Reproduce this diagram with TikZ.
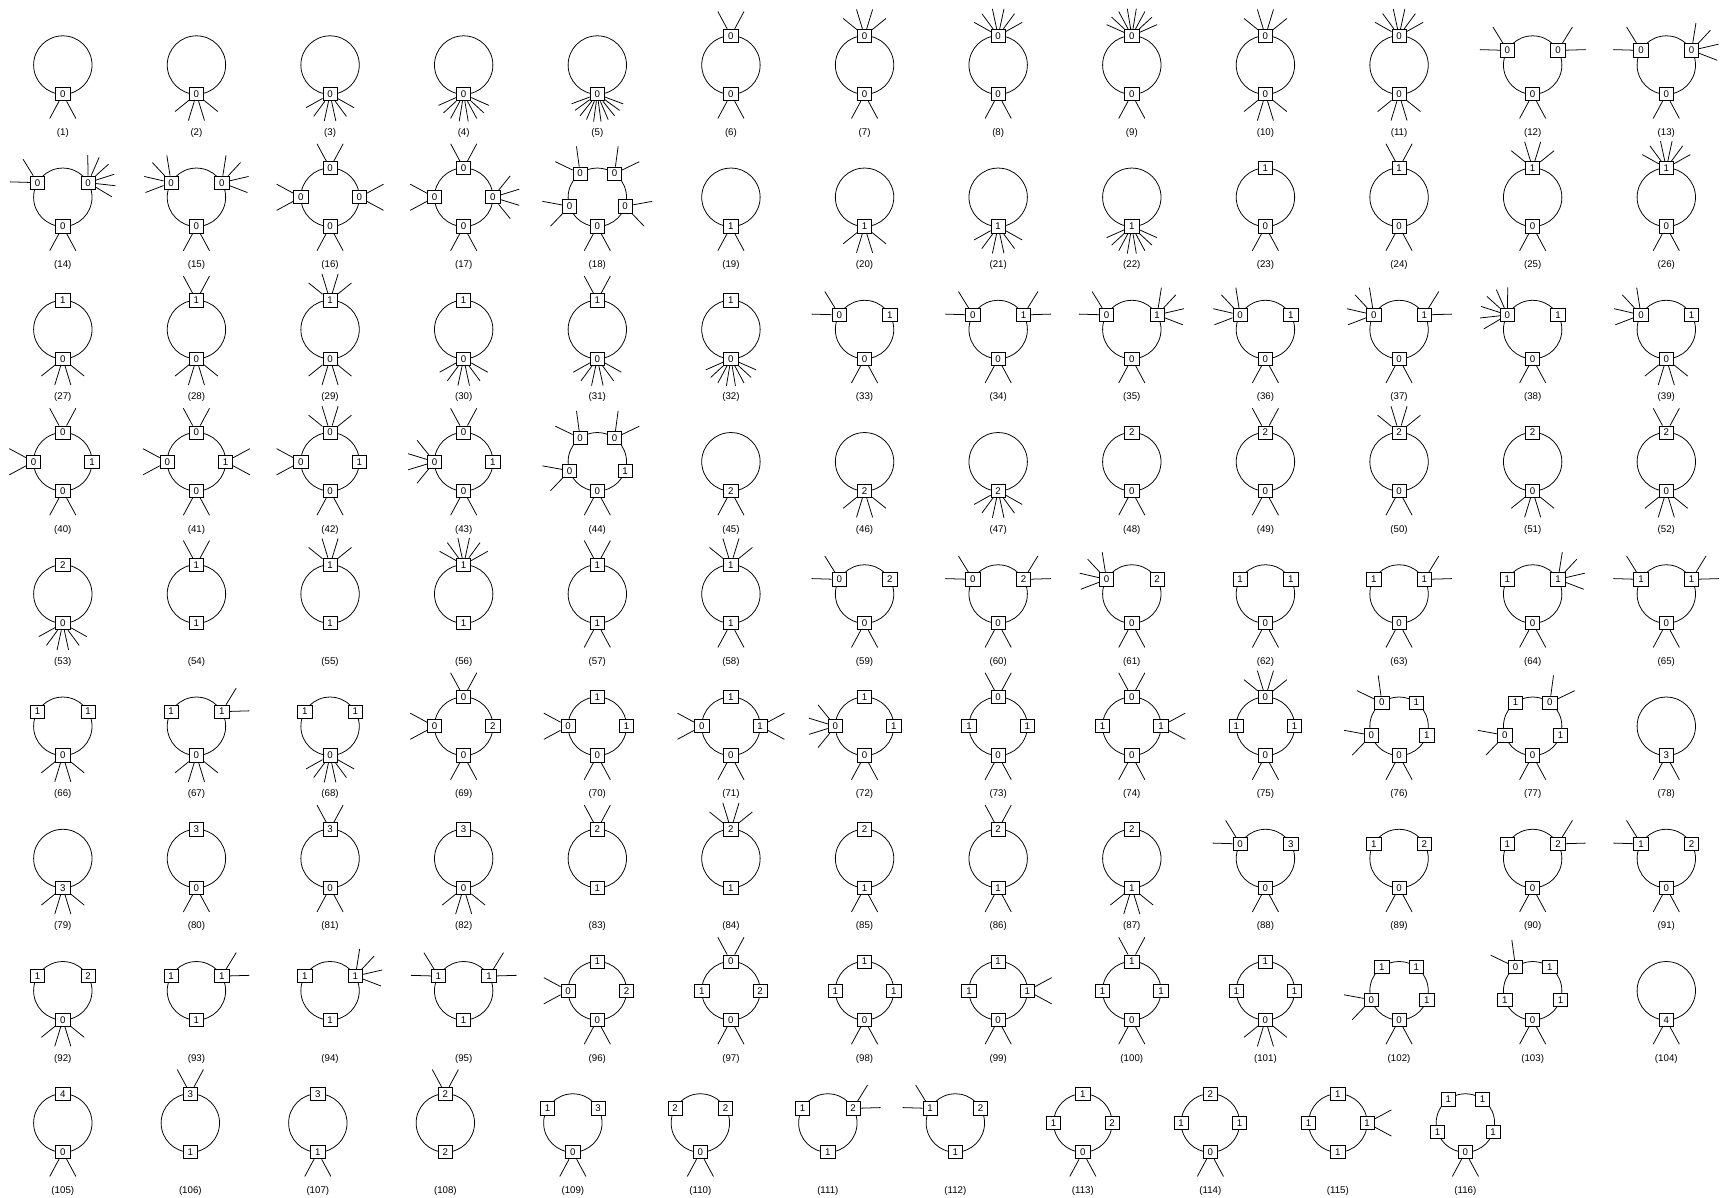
\documentclass[tikz,border=0pt]{standalone}
\usepackage{fontspec}
\setmainfont{Liberation Sans}
\tikzset{
  ln/.style={line width=0.7pt},
  vbox/.style={draw, line width=0.7pt, fill=white, minimum width=13pt, minimum height=12pt, inner sep=0pt, font=\fontsize{8.8}{10}\selectfont},
  lab/.style={font=\fontsize{8.8}{10}\selectfont, inner sep=0pt},
}
\newcommand{\dg}[4]{%
  \ifnum#3=8 \pgfmathsetmacro\cx{57+115.7*#2}\else\pgfmathsetmacro\cx{57+121.25*#2}\fi
  \pgfmathsetmacro\cy{-(59+120*#3)}%
  \begin{scope}[shift={(\cx,\cy)}]
    \draw[ln] (0,0) circle (26.5);
    \foreach \a/\l/\n [count=\j] in {#4} {
      \node[vbox] (d#1b\j) at (\a:26.5) {\l};
      \ifnum\n>0
        \foreach \i in {1,...,\n} {
          \pgfmathsetmacro\ang{\a+(\i-(\n+1)/2)*170/(\n+1)}
          \path (\a:26.5) ++(\ang:25) coordinate (d#1e\j-\i);
          \draw[ln] (d#1b\j) -- (d#1e\j-\i);
        }
      \fi
    }
    \node[lab] (d#1l) at (0,-61.5) {(#1)};
  \end{scope}}
\begin{document}
\begin{tikzpicture}[x=1pt,y=1pt]
\useasboundingbox (0,0) rectangle (1568,-1087);
% row 0
\dg{1}{0}{0}{270/0/2}
\dg{2}{1}{0}{270/0/4}
\dg{3}{2}{0}{270/0/6}
\dg{4}{3}{0}{270/0/8}
\dg{5}{4}{0}{270/0/10}
\dg{6}{5}{0}{90/0/2,270/0/2}
\dg{7}{6}{0}{90/0/4,270/0/2}
\dg{8}{7}{0}{90/0/6,270/0/2}
\dg{9}{8}{0}{90/0/8,270/0/2}
\dg{10}{9}{0}{90/0/4,270/0/4}
\dg{11}{10}{0}{90/0/6,270/0/4}
\dg{12}{11}{0}{150/0/2,30/0/2,270/0/2}
\dg{13}{12}{0}{150/0/2,30/0/4,270/0/2}
% row 1
\dg{14}{0}{1}{150/0/2,30/0/6,270/0/2}
\dg{15}{1}{1}{150/0/4,30/0/4,270/0/2}
\dg{16}{2}{1}{90/0/2,0/0/2,270/0/2,180/0/2}
\dg{17}{3}{1}{90/0/2,0/0/4,270/0/2,180/0/2}
\dg{18}{4}{1}{270/0/2,342/0/2,54/0/2,126/0/2,198/0/2}
\dg{19}{5}{1}{270/1/2}
\dg{20}{6}{1}{270/1/4}
\dg{21}{7}{1}{270/1/6}
\dg{22}{8}{1}{270/1/8}
\dg{23}{9}{1}{90/1/0,270/0/2}
\dg{24}{10}{1}{90/1/2,270/0/2}
\dg{25}{11}{1}{90/1/4,270/0/2}
\dg{26}{12}{1}{90/1/6,270/0/2}
% row 2
\dg{27}{0}{2}{90/1/0,270/0/4}
\dg{28}{1}{2}{90/1/2,270/0/4}
\dg{29}{2}{2}{90/1/4,270/0/4}
\dg{30}{3}{2}{90/1/0,270/0/6}
\dg{31}{4}{2}{90/1/2,270/0/6}
\dg{32}{5}{2}{90/1/0,270/0/8}
\dg{33}{6}{2}{150/0/2,30/1/0,270/0/2}
\dg{34}{7}{2}{150/0/2,30/1/2,270/0/2}
\dg{35}{8}{2}{150/0/2,30/1/4,270/0/2}
\dg{36}{9}{2}{150/0/4,30/1/0,270/0/2}
\dg{37}{10}{2}{150/0/4,30/1/2,270/0/2}
\dg{38}{11}{2}{150/0/6,30/1/0,270/0/2}
\dg{39}{12}{2}{150/0/4,30/1/0,270/0/4}
% row 3
\dg{40}{0}{3}{90/0/2,0/1/0,270/0/2,180/0/2}
\dg{41}{1}{3}{90/0/2,0/1/2,270/0/2,180/0/2}
\dg{42}{2}{3}{90/0/4,0/1/0,270/0/2,180/0/2}
\dg{43}{3}{3}{90/0/2,0/1/0,270/0/2,180/0/4}
\dg{44}{4}{3}{270/0/2,342/1/0,54/0/2,126/0/2,198/0/2}
\dg{45}{5}{3}{270/2/2}
\dg{46}{6}{3}{270/2/4}
\dg{47}{7}{3}{270/2/6}
\dg{48}{8}{3}{90/2/0,270/0/2}
\dg{49}{9}{3}{90/2/2,270/0/2}
\dg{50}{10}{3}{90/2/4,270/0/2}
\dg{51}{11}{3}{90/2/0,270/0/4}
\dg{52}{12}{3}{90/2/2,270/0/4}
% row 4
\dg{53}{0}{4}{90/2/0,270/0/6}
\dg{54}{1}{4}{90/1/2,270/1/0}
\dg{55}{2}{4}{90/1/4,270/1/0}
\dg{56}{3}{4}{90/1/6,270/1/0}
\dg{57}{4}{4}{90/1/2,270/1/2}
\dg{58}{5}{4}{90/1/4,270/1/2}
\dg{59}{6}{4}{150/0/2,30/2/0,270/0/2}
\dg{60}{7}{4}{150/0/2,30/2/2,270/0/2}
\dg{61}{8}{4}{150/0/4,30/2/0,270/0/2}
\dg{62}{9}{4}{150/1/0,30/1/0,270/0/2}
\dg{63}{10}{4}{150/1/0,30/1/2,270/0/2}
\dg{64}{11}{4}{150/1/0,30/1/4,270/0/2}
\dg{65}{12}{4}{150/1/2,30/1/2,270/0/2}
% row 5
\dg{66}{0}{5}{150/1/0,30/1/0,270/0/4}
\dg{67}{1}{5}{150/1/0,30/1/2,270/0/4}
\dg{68}{2}{5}{150/1/0,30/1/0,270/0/6}
\dg{69}{3}{5}{90/0/2,0/2/0,270/0/2,180/0/2}
\dg{70}{4}{5}{90/1/0,0/1/0,270/0/2,180/0/2}
\dg{71}{5}{5}{90/1/0,0/1/2,270/0/2,180/0/2}
\dg{72}{6}{5}{90/1/0,0/1/0,270/0/2,180/0/4}
\dg{73}{7}{5}{90/0/2,0/1/0,270/0/2,180/1/0}
\dg{74}{8}{5}{90/0/2,0/1/2,270/0/2,180/1/0}
\dg{75}{9}{5}{90/0/4,0/1/0,270/0/2,180/1/0}
\dg{76}{10}{5}{270/0/2,342/1/0,54/1/0,126/0/2,198/0/2}
\dg{77}{11}{5}{270/0/2,342/1/0,54/0/2,126/1/0,198/0/2}
\dg{78}{12}{5}{270/3/2}
% row 6
\dg{79}{0}{6}{270/3/4}
\dg{80}{1}{6}{90/3/0,270/0/2}
\dg{81}{2}{6}{90/3/2,270/0/2}
\dg{82}{3}{6}{90/3/0,270/0/4}
\dg{83}{4}{6}{90/2/2,270/1/0}
\dg{84}{5}{6}{90/2/4,270/1/0}
\dg{85}{6}{6}{90/2/0,270/1/2}
\dg{86}{7}{6}{90/2/2,270/1/2}
\dg{87}{8}{6}{90/2/0,270/1/4}
\dg{88}{9}{6}{150/0/2,30/3/0,270/0/2}
\dg{89}{10}{6}{150/1/0,30/2/0,270/0/2}
\dg{90}{11}{6}{150/1/0,30/2/2,270/0/2}
\dg{91}{12}{6}{150/1/2,30/2/0,270/0/2}
% row 7
\dg{92}{0}{7}{150/1/0,30/2/0,270/0/4}
\dg{93}{1}{7}{150/1/0,30/1/2,270/1/0}
\dg{94}{2}{7}{150/1/0,30/1/4,270/1/0}
\dg{95}{3}{7}{150/1/2,30/1/2,270/1/0}
\dg{96}{4}{7}{90/1/0,0/2/0,270/0/2,180/0/2}
\dg{97}{5}{7}{90/0/2,0/2/0,270/0/2,180/1/0}
\dg{98}{6}{7}{90/1/0,0/1/0,270/0/2,180/1/0}
\dg{99}{7}{7}{90/1/0,0/1/2,270/0/2,180/1/0}
\dg{100}{8}{7}{90/1/2,0/1/0,270/0/2,180/1/0}
\dg{101}{9}{7}{90/1/0,0/1/0,270/0/4,180/1/0}
\dg{102}{10}{7}{270/0/2,342/1/0,54/1/0,126/1/0,198/0/2}
\dg{103}{11}{7}{270/0/2,342/1/0,54/1/0,126/0/2,198/1/0}
\dg{104}{12}{7}{270/4/2}
% row 8
\dg{105}{0}{8}{90/4/0,270/0/2}
\dg{106}{1}{8}{90/3/2,270/1/0}
\dg{107}{2}{8}{90/3/0,270/1/2}
\dg{108}{3}{8}{90/2/2,270/2/0}
\dg{109}{4}{8}{150/1/0,30/3/0,270/0/2}
\dg{110}{5}{8}{150/2/0,30/2/0,270/0/2}
\dg{111}{6}{8}{150/1/0,30/2/2,270/1/0}
\dg{112}{7}{8}{150/1/2,30/2/0,270/1/0}
\dg{113}{8}{8}{90/1/0,0/2/0,270/0/2,180/1/0}
\dg{114}{9}{8}{90/2/0,0/1/0,270/0/2,180/1/0}
\dg{115}{10}{8}{90/1/0,0/1/2,270/1/0,180/1/0}
\dg{116}{11}{8}{270/0/2,342/1/0,54/1/0,126/1/0,198/1/0}
\end{tikzpicture}
\end{document}
